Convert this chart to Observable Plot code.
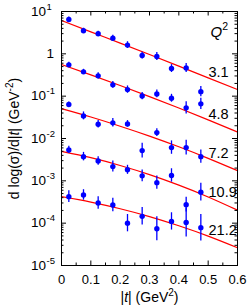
<!DOCTYPE html>
<html><head><meta charset="utf-8">
<script src="https://cdn.jsdelivr.net/npm/d3@7"></script>
<script src="https://cdn.jsdelivr.net/npm/@observablehq/plot@0.6"></script>
<style>html,body{margin:0;padding:0;background:#fff}svg{display:block}</style>
</head><body><div id="chart"></div>
<script>
// |t| bin centres (GeV^2)
const tBins = [0.025, 0.075, 0.125, 0.175, 0.225, 0.275, 0.325, 0.375, 0.425, 0.475];
const q2Labels = ["3.1", "4.8", "7.2", "10.9", "21.2"];

// measured d log(sigma)/d|t| values (offset per Q2 bin)
const val31  = [6.47, 3.50, 2.97, 2.34, 1.61, 0.912, 0.863, 0.449, 0.461, 0.128];
const val48  = [0.549, 0.375, 0.302, 0.185, 0.143, 0.1005, 0.113, 0.0892, 0.0529, 0.0658];
const val72  = [0.0633, 0.0342, 0.0217, 0.0234, 0.0221, 0.00518, 0.0138, 0.0061, 0.0061, 0.00373];
const val109 = [0.00537, 0.00373, 0.00295, 0.00217, 0.00182, 0.00131, 0.000906, 0.00134, 0.000274, 0.000541];
const val212 = [0.000423, 0.000464, 0.000300, 0.000269, 0.000100, 0.000145, 0.0000741, 0.000110, 0.000104, 0.0000783];

// relative (multiplicative) uncertainties
const err31  = [0.15, 0.15, 0.15, 0.18, 0.20, 0.20, 0.24, 0.24, 0.28, 0.33];
const err48  = [0.15, 0.15, 0.18, 0.20, 0.22, 0.22, 0.24, 0.24, 0.39, 0.35];
const err72  = [0.15, 0.24, 0.22, 0.26, 0.20, 0.50, 0.23, 0.44, 0.50, 0.44];
const err109 = [0.22, 0.26, 0.26, 0.35, 0.28, 0.37, 0.44, 0.44, 0.49, 0.63];
const err212 = [0.37, 0.33, 0.41, 0.44, 0.60, 0.61, 0.92, 0.60, 1.20, 1.06];

// fit curves read at these |t|
const fitT   = [0, 0.1, 0.2, 0.3, 0.4, 0.5, 0.6];
const fit31  = [6.13, 3.31, 1.79, 0.963, 0.512, 0.271, 0.143];
const fit48  = [0.559, 0.319, 0.179, 0.0978, 0.0526, 0.0275, 0.0142];
const fit72  = [0.0509, 0.0322, 0.0195, 0.0114, 0.00637, 0.0034, 0.00174];
const fit109 = [0.00498, 0.00352, 0.0023, 0.0014, 0.00079, 0.000416, 0.000203];
const fit212 = [0.000423, 0.000315, 0.000219, 0.000143, 0.0000868, 0.0000495, 0.0000263];

// axes
const xMajor = [0, 0.1, 0.2, 0.3, 0.4, 0.5, 0.6];
const xMajorLabels = ["0", "0.1", "0.2", "0.3", "0.4", "0.5", "0.6"];
const xMinor = [0.05, 0.15, 0.25, 0.35, 0.45, 0.55];
const yMajor = [10, 1, 0.1, 0.01, 0.001, 0.0001, 0.00001];
const yLabelBase = ["10", "1", "10", "10", "10", "10", "10"];
const yLabelExp  = ["1", "", "-1", "-2", "-3", "-4", "-5"];
const yMinor = [];
for (const dec of [0.00001, 0.0001, 0.001, 0.01, 0.1, 1]) for (const m of [2,3,4,5,6,7,8,9]) yMinor.push(dec * m);

const xTitle = "|t| (GeV2)";
const yTitle = "d log(σ)/d|t| (GeV-2)";
const q2Title = "Q2";

const vals = [val31, val48, val72, val109, val212];
const errs = [err31, err48, err72, err109, err212];
const fits = [fit31, fit48, fit72, fit109, fit212];

const points = [];
vals.forEach((s, i) => s.forEach((v, j) => points.push({t: tBins[j], v, e: errs[i][j], q: q2Labels[i]})));
const fitRows = [];
fits.forEach((s, i) => s.forEach((v, j) => fitRows.push({t: fitT[j], v, q: q2Labels[i]})));
const labelRows = fits.map((s, i) => ({t: fitT[fitT.length - 1], v: s[s.length - 1], q: q2Labels[i]}));

const W = 249, H = 307, mL = 61, mR = 12, mT = 11, mB = 42;
const pw = W - mL - mR, ph = H - mT - mB;
const FONT = "'Liberation Sans', Arial, Helvetica, sans-serif";

const svg = Plot.plot({
  width: W, height: H,
  marginLeft: mL, marginRight: mR, marginTop: mT, marginBottom: mB,
  style: {fontFamily: FONT, background: "#fff", color: "#000"},
  x: {domain: [0, 0.6], axis: null},
  y: {type: "log", domain: [1e-5, 10], axis: null},
  marks: [
    Plot.line(fitRows, {x: "t", y: "v", z: "q", stroke: "#ff0000", strokeWidth: 1.2, curve: "natural"}),
    Plot.ruleX(points, {x: "t", y1: d => d.v / (1 + d.e), y2: d => d.v * (1 + d.e), stroke: "#0000ff", strokeWidth: 1.3}),
    Plot.dot(points, {x: "t", y: "v", r: 2.7, fill: "#0000ff", stroke: "none"}),
    Plot.frame({stroke: "#000", strokeWidth: 1}),
    // ticks (inward, all four sides)
    Plot.tickX(xMajor, {x: d => d, insetTop: ph - 4.5, stroke: "#000"}),
    Plot.tickX(xMajor, {x: d => d, insetBottom: ph - 4.5, stroke: "#000"}),
    Plot.tickX(xMinor, {x: d => d, insetTop: ph - 2.5, stroke: "#000"}),
    Plot.tickX(xMinor, {x: d => d, insetBottom: ph - 2.5, stroke: "#000"}),
    Plot.tickY(yMajor, {y: d => d, insetRight: pw - 5, stroke: "#000"}),
    Plot.tickY(yMajor, {y: d => d, insetLeft: pw - 5, stroke: "#000"}),
    Plot.tickY(yMinor, {y: d => d, insetRight: pw - 2.5, stroke: "#000"}),
    Plot.tickY(yMinor, {y: d => d, insetLeft: pw - 2.5, stroke: "#000"}),
    // x tick labels
    Plot.text(xMajor, {x: d => d, text: (d, i) => xMajorLabels[i], frameAnchor: "bottom", textAnchor: "middle", dy: 14, lineAnchor: "middle", fontSize: 13, fill: "#000"}),
    // y tick labels
    Plot.text(yMajor, {filter: (d, i) => yLabelBase[i] === "10", y: d => d, text: (d, i) => yLabelBase[i], frameAnchor: "left", textAnchor: "end", dx: -15.5, lineAnchor: "middle", fontSize: 13.5, fill: "#000"}),
    Plot.text(yMajor, {filter: (d, i) => yLabelBase[i] === "10", y: d => d, text: (d, i) => yLabelExp[i], frameAnchor: "left", textAnchor: "start", dx: -15, dy: -5, lineAnchor: "middle", fontSize: 9.5, fill: "#000"}),
    Plot.text(yMajor, {filter: (d, i) => yLabelBase[i] === "1", y: d => d, text: (d, i) => yLabelBase[i], frameAnchor: "left", textAnchor: "end", dx: -7.5, lineAnchor: "middle", fontSize: 13.5, fill: "#000"}),
    // axis titles
    Plot.text([xTitle], {text: d => d, frameAnchor: "bottom", textAnchor: "middle", dy: 32, lineAnchor: "middle", fontSize: 14, fill: "#000"}),
    Plot.text([yTitle], {text: d => d, frameAnchor: "left", textAnchor: "middle", dx: -47, rotate: -90, lineAnchor: "middle", fontSize: 14, fill: "#000"}),
    // Q2 labels
    Plot.text([q2Title], {text: d => d, frameAnchor: "top-right", textAnchor: "start", dx: -27, dy: 20.5, lineAnchor: "middle", fontSize: 15, fill: "#000"}),
    Plot.text(labelRows, {x: "t", y: "v", text: "q", textAnchor: "start", dx: -29, dy: -17.6, lineAnchor: "middle", fontSize: 14.5, fill: "#000"})
  ]
});

// rich text (italic t / Q, superscripts)
function rich(el, parts) {
  const s = d3.select(el);
  s.text(null);
  parts.forEach(p => {
    const ts = s.append("tspan").text(p.t);
    if (p.i) ts.attr("font-style", "italic");
    if (p.sup) ts.attr("font-size", p.sup).attr("dy", p.dy);
    else if (p.dy) ts.attr("dy", p.dy);
  });
}
d3.select(svg).selectAll("text").each(function () {
  const txt = d3.select(this).text();
  if (txt === xTitle) {
    rich(this, [{t: "|"}, {t: "t", i: true}, {t: "| (GeV"}, {t: "2", sup: 10, dy: -6}, {t: ")", dy: 6}]);
  } else if (txt === yTitle) {
    rich(this, [{t: "d log(σ)/d|"}, {t: "t", i: true}, {t: "| (GeV"}, {t: "-2", sup: 10, dy: -6}, {t: ")", dy: 6}]);
  } else if (txt === q2Title) {
    rich(this, [{t: "Q", i: true}, {t: "2", sup: 10.5, dy: -7}]);
  }
});

document.getElementById("chart").append(svg);
</script>
</body></html>
